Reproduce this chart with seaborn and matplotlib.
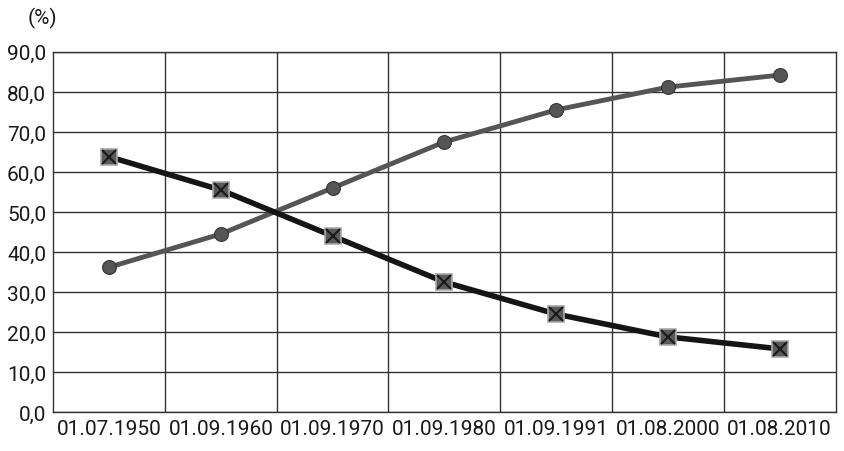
import numpy as np
import pandas as pd
import seaborn as sns
import matplotlib.pyplot as plt
from matplotlib.ticker import FuncFormatter, FixedLocator

dates = ['01.07.1950', '01.09.1960', '01.09.1970', '01.09.1980',
         '01.09.1991', '01.08.2000', '01.08.2010']
rural = [63.8, 55.5, 44.0, 32.5, 24.5, 18.8, 15.8]
urban = [36.2, 44.5, 56.0, 67.5, 75.5, 81.2, 84.2]

df = pd.DataFrame({'date': dates, 'rural': rural, 'urban': urban})

sns.set_style('white')
plt.rcParams['font.family'] = ['Roboto', 'DejaVu Sans']

fig, ax = plt.subplots(figsize=(8.44, 4.52), dpi=100)
fig.subplots_adjust(left=0.063, right=0.99, top=0.883, bottom=0.086)

sns.lineplot(data=df, x='date', y='urban', ax=ax, color='#555555', lw=3.5,
             marker='o', markersize=10, markerfacecolor='#555555',
             markeredgecolor='#333333', sort=False)
sns.lineplot(data=df, x='date', y='rural', ax=ax, color='#151515', lw=4,
             marker='s', markersize=11, markerfacecolor='#5a5a5a',
             markeredgecolor='#aaaaaa', markeredgewidth=1.2, sort=False)
ax.plot(range(len(dates)), rural, ls='none', marker='x', markersize=10,
        color='#1a1a1a', mew=1.5)

ax.set_xlim(-0.5, len(dates) - 0.5)
ax.set_ylim(0, 90)
ax.set_yticks(np.arange(0, 91, 10))
ax.yaxis.set_major_formatter(FuncFormatter(lambda v, p: f'{v:.1f}'.replace('.', ',')))
ax.xaxis.set_minor_locator(FixedLocator(np.arange(0.5, len(dates) - 1, 1)))
ax.grid(True, axis='y', which='major', color='#333333', lw=1)
ax.grid(True, axis='x', which='minor', color='#333333', lw=1)
ax.set_axisbelow(True)
for s in ax.spines.values():
    s.set_color('#333333')
    s.set_linewidth(1)

ax.set_xlabel('')
ax.set_ylabel('')
ax.tick_params(axis='both', which='both', length=0, labelsize=15, colors='#1a1a1a', pad=5)
ax.text(-0.033, 1.065, '(%)', transform=ax.transAxes, fontsize=15, color='#1a1a1a',
        ha='left', va='bottom')

plt.savefig('out.png', dpi=100)
